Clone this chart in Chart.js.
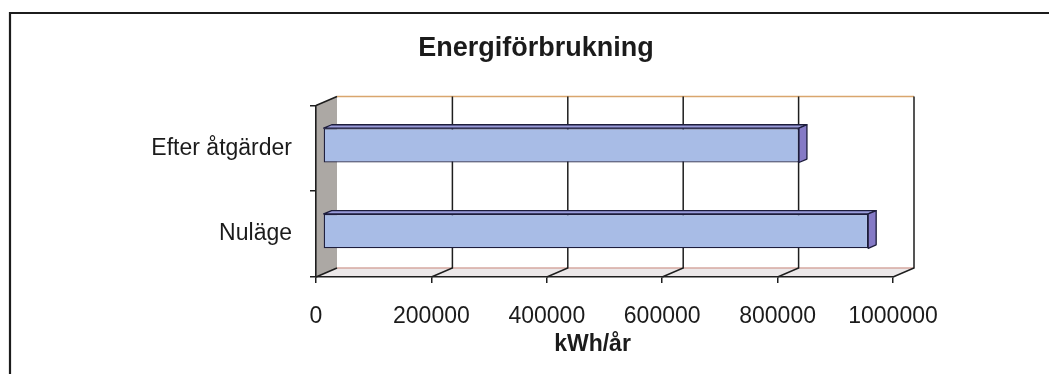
<!DOCTYPE html>
<html>
<head>
<meta charset="utf-8">
<script src="https://cdn.jsdelivr.net/npm/chart.js@4/dist/chart.umd.min.js"></script>
<style>
  html, body { margin: 0; padding: 0; background: #ffffff; }
  #wrap { width: 1049px; height: 374px; position: relative; }
</style>
</head>
<body>
<div id="wrap"><canvas id="c" width="1049" height="374"></canvas></div>
<script>
// Energy use per year, before and after measures
const categories = ['Efter åtgärder', 'Nuläge'];
const consumption = [825000, 945000];
const xTicks = [0, 200000, 400000, 600000, 800000, 1000000];
const chartTitle = 'Energiförbrukning';
const axisTitle = 'kWh/år';

const FONT = "'Liberation Sans', Arial, sans-serif";
const INK = '#1b1b1b';

// Oblique depth of the plot box (back wall offset from the front plane)
const DEPTH_X = 21, DEPTH_Y = -9;
// Bars sit in the middle of the depth
const BAR_FRONT = 0.33, BAR_DEPTH = 0.38;

function poly(ctx, pts) {
  ctx.beginPath();
  ctx.moveTo(pts[0][0], pts[0][1]);
  for (let i = 1; i < pts.length; i++) ctx.lineTo(pts[i][0], pts[i][1]);
  ctx.closePath();
}

const boxPlugin = {
  id: 'box3d',
  afterLayout(chart) {
    // let long category labels run past the axis box instead of being clipped
    chart.scales.y.left = 0;
  },
  beforeDraw(chart) {
    const { ctx, chartArea: a, scales: { x } } = chart;
    const dx = DEPTH_X, dy = DEPTH_Y;
    ctx.save();
    // outer frame
    ctx.strokeStyle = '#1c1c1c';
    ctx.lineWidth = 2.2;
    ctx.beginPath();
    ctx.moveTo(10, chart.height + 2);
    ctx.lineTo(10, 13);
    ctx.lineTo(chart.width + 2, 13);
    ctx.stroke();

    // floor
    ctx.fillStyle = '#ece8e9';
    poly(ctx, [[a.left, a.bottom], [a.right, a.bottom], [a.right + dx, a.bottom + dy], [a.left + dx, a.bottom + dy]]);
    ctx.fill();

    // left side wall
    ctx.fillStyle = '#aca8a4';
    poly(ctx, [[a.left, a.bottom], [a.left, a.top], [a.left + dx, a.top + dy], [a.left + dx, a.bottom + dy]]);
    ctx.fill();

    // back wall top edge and floor back edge
    ctx.lineWidth = 1.5;
    ctx.strokeStyle = '#d9a66e';
    ctx.beginPath();
    ctx.moveTo(a.left + dx, a.top + dy);
    ctx.lineTo(a.right + dx, a.top + dy);
    ctx.stroke();
    ctx.strokeStyle = '#d6a8a0';
    ctx.beginPath();
    ctx.moveTo(a.left + dx, a.bottom + dy);
    ctx.lineTo(a.right + dx, a.bottom + dy);
    ctx.stroke();

    // wall diagonals
    ctx.strokeStyle = '#1e1e1e';
    ctx.lineWidth = 1.6;
    ctx.beginPath();
    ctx.moveTo(a.left, a.top);
    ctx.lineTo(a.left + dx, a.top + dy);
    ctx.moveTo(a.left, a.bottom);
    ctx.lineTo(a.left + dx, a.bottom + dy);
    ctx.stroke();

    // gridlines on the back wall, folding across the floor
    ctx.lineWidth = 1.5;
    xTicks.forEach(v => {
      if (v === 0) return;
      const px = x.getPixelForValue(v);
      ctx.beginPath();
      ctx.moveTo(px + dx, a.top + dy);
      ctx.lineTo(px + dx, a.bottom + dy);
      ctx.lineTo(px, a.bottom);
      ctx.stroke();
    });
    ctx.restore();
  },
  beforeDatasetsDraw(chart) {
    chart.ctx.save();
    chart.ctx.translate(DEPTH_X * BAR_FRONT, DEPTH_Y * BAR_FRONT);
  },
  afterDatasetsDraw(chart) {
    const { ctx } = chart;
    ctx.restore();
    const fx = DEPTH_X * BAR_FRONT, fy = DEPTH_Y * BAR_FRONT;
    const bx = DEPTH_X * BAR_DEPTH, by = DEPTH_Y * BAR_DEPTH;
    const meta = chart.getDatasetMeta(0);
    ctx.save();
    ctx.lineWidth = 1.3;
    ctx.strokeStyle = '#1d1d3c';
    ctx.lineJoin = 'round';
    meta.data.forEach(bar => {
      const { x, y, base, height } = bar.getProps(['x', 'y', 'base', 'height'], true);
      const L = base + fx, R = x + fx, T = y - height / 2 + fy, B = y + height / 2 + fy;
      // top face
      ctx.fillStyle = '#9a9cdb';
      poly(ctx, [[L, T], [R, T], [R + bx, T + by], [L + bx, T + by]]);
      ctx.fill();
      ctx.stroke();
      // end face
      ctx.fillStyle = '#857ac6';
      poly(ctx, [[R, T], [R + bx, T + by], [R + bx, B + by], [R, B]]);
      ctx.fill();
      ctx.stroke();
    });
    ctx.restore();
  },
  afterDraw(chart) {
    const { ctx, chartArea: a } = chart;
    ctx.save();
    ctx.fillStyle = INK;
    ctx.font = `bold 23px ${FONT}`;
    ctx.textAlign = 'center';
    ctx.textBaseline = 'middle';
    ctx.fillText(axisTitle, (a.left + a.right) / 2 - 12, 345);
    ctx.restore();
  }
};

new Chart(document.getElementById('c'), {
  type: 'bar',
  data: {
    labels: categories,
    datasets: [{
      data: consumption,
      backgroundColor: '#a8bce6',
      borderColor: '#1d1d3c',
      borderWidth: 1.3,
      borderSkipped: false,
      barPercentage: 0.4,
      categoryPercentage: 1.0,
      clip: false
    }]
  },
  options: {
    indexAxis: 'y',
    responsive: false,
    animation: false,
    events: [],
    layout: { padding: { left: 179, right: 156, top: 10, bottom: 37 } },
    plugins: {
      legend: { display: false },
      tooltip: { enabled: false },
      title: {
        display: true,
        text: chartTitle,
        color: INK,
        font: { family: FONT, size: 27, weight: 'bold' },
        padding: { top: 22, bottom: 41 }
      }
    },
    scales: {
      x: {
        min: 0,
        max: 1000000,
        afterBuildTicks: s => { s.ticks = xTicks.map(v => ({ value: v })); },
        afterFit: s => { s.height = 60; },
        ticks: {
          color: INK,
          padding: 20,
          maxRotation: 0,
          autoSkip: false,
          font: { family: FONT, size: 23 },
          callback: v => String(v)
        },
        grid: { drawOnChartArea: false, drawTicks: true, tickLength: 6, color: '#1e1e1e', lineWidth: 1.5 },
        border: { display: true, color: '#1e1e1e', width: 1.6 }
      },
      y: {
        afterFit: s => { s.width = 137; },
        ticks: {
          color: INK,
          padding: 18,
          font: { family: FONT, size: 23 }
        },
        grid: { drawOnChartArea: false, drawTicks: true, tickLength: 6, color: '#1e1e1e', lineWidth: 1.5 },
        border: { display: true, color: '#1e1e1e', width: 1.6 }
      }
    }
  },
  plugins: [boxPlugin]
});
</script>
</body>
</html>
